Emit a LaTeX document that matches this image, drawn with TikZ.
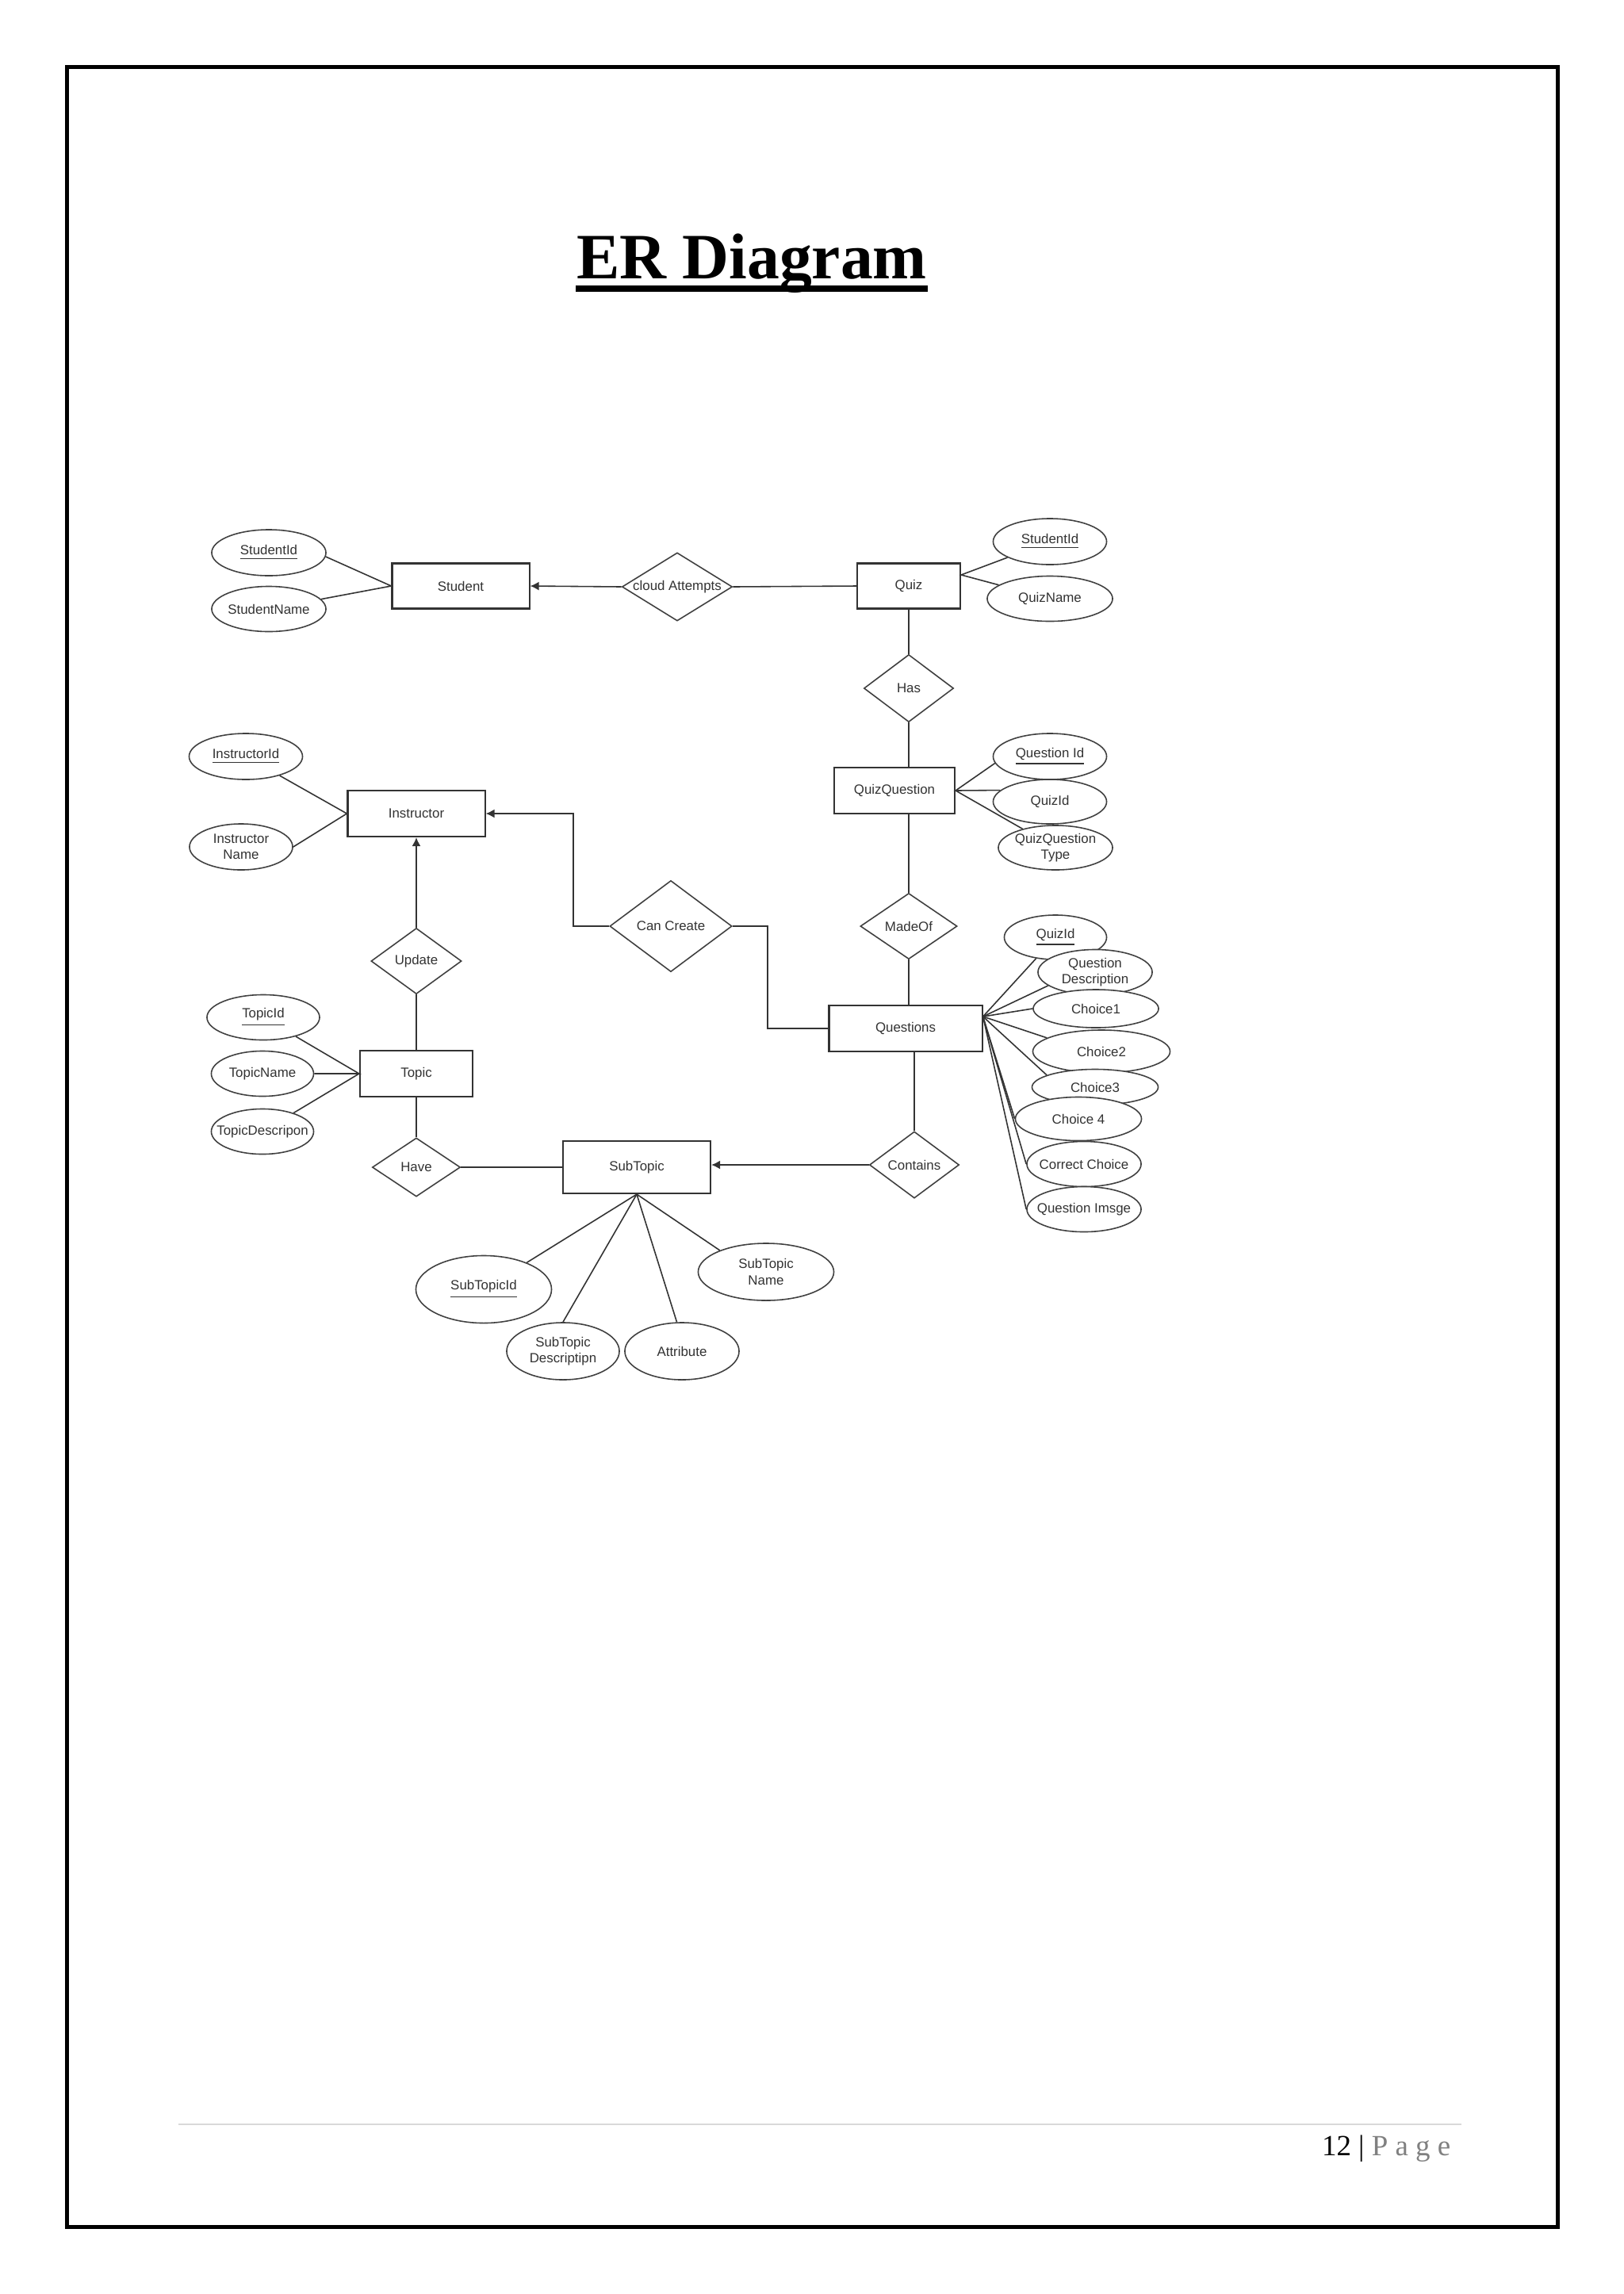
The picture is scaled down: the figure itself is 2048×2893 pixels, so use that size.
\documentclass[tikz,border=0pt]{standalone}
\usepackage{fontspec}
\setmainfont{Liberation Serif}
\setsansfont{Liberation Sans}
\usetikzlibrary{shapes.geometric,arrows.meta}
\begin{document}
\begin{tikzpicture}[x=0.01cm,y=-0.01cm,>={Latex[length=1.1mm,width=1.1mm]},
	every node/.style={font=\sffamily\fontsize{4.8}{5.8}\selectfont,text=black!80},
	ent/.style={draw=black!80,line width=0.6pt,fill=white,inner sep=0,minimum height=0.58cm},
	rel/.style={diamond,draw=black!75,line width=0.45pt,fill=white,inner sep=-1cm,minimum width=1.13cm,minimum height=0.84cm},
	att/.style={ellipse,draw=black!75,line width=0.45pt,fill=white,inner sep=-1cm,align=center,minimum width=1.43cm,minimum height=0.57cm},
	con/.style={draw=black!80,line width=0.45pt}]
\useasboundingbox (0,0) rectangle (2048,2893);
\draw[line width=0.05cm] (84.5,84.5) rectangle (1964.5,2808.5);
\node[inner sep=0,anchor=base,text=black,font=\rmfamily\bfseries\fontsize{23.2}{28}\selectfont] (title) at (948,351) {ER Diagram};
\draw[line width=0.08cm] ([yshift=-0.13cm]title.base west) -- ([yshift=-0.13cm]title.base east);

\node[ent,minimum width=1.73cm,minimum height=0.57cm] (student) at (581,739) {Student};
\node[ent,minimum width=1.30cm,minimum height=0.57cm] (quiz) at (1146,739) {Quiz};
\node[ent,minimum width=1.52cm] (quizq) at (1128,997) {QuizQuestion};
\node[ent,minimum width=1.73cm] (instr) at (525,1026) {Instructor};
\node[ent,minimum width=1.42cm] (topic) at (525,1354) {Topic};
\node[ent,minimum width=1.93cm] (quest) at (1142,1297) {Questions};
\node[ent,minimum width=1.86cm,minimum height=0.66cm] (subt) at (803,1472) {SubTopic};

\node[rel,minimum width=1.39cm,minimum height=0.86cm] (attempts) at (854,740) {cloud Attempts};
\node[rel,minimum height=0.85cm] (has) at (1146,868) {Has};
\node[rel,minimum width=1.22cm,minimum height=0.83cm] (madeof) at (1146,1168) {MadeOf};
\node[rel,minimum width=1.54cm,minimum height=1.15cm] (create) at (846,1168) {Can Create};
\node[rel,minimum width=1.14cm,minimum height=0.83cm] (update) at (525,1212) {Update};
\node[rel,minimum width=1.11cm,minimum height=0.74cm] (have) at (525,1472) {Have};
\node[rel] (contains) at (1153,1469) {Contains};

\node[att,minimum width=1.44cm,minimum height=0.58cm] (sid) at (339,697) {\underline{StudentId}};
\node[att,minimum width=1.44cm] (sname) at (339,768) {StudentName};
\node[att,minimum height=0.58cm] (qsid) at (1324,683) {\underline{StudentId}};
\node[att,minimum width=1.58cm] (qname) at (1324,755) {QuizName};
\node[att,minimum height=0.58cm] (qqid) at (1324,954) {\underline{Question Id}};
\node[att,minimum height=0.56cm] (qqquiz) at (1324,1011) {QuizId};
\node[att,minimum width=1.44cm,minimum height=0.56cm] (qqtype) at (1331,1069) {QuizQuestion\\Type};
\node[att,minimum height=0.58cm] (iid) at (310,954) {\underline{InstructorId}};
\node[att,minimum width=1.30cm,minimum height=0.58cm] (iname) at (304,1068) {Instructor\\Name};
\node[att,minimum width=1.42cm] (tid) at (332,1283) {\underline{TopicId}};
\node[att,minimum width=1.29cm] (tname) at (331,1354) {TopicName};
\node[att,minimum width=1.29cm] (tdesc) at (331,1427) {TopicDescripon};
\node[att,minimum width=1.71cm,minimum height=0.85cm] (stid) at (610,1626) {\underline{SubTopicId}};
\node[att,minimum width=1.42cm,minimum height=0.72cm] (stdesc) at (710,1704) {SubTopic\\Descriptipn};
\node[att,minimum width=1.44cm,minimum height=0.72cm] (stattr) at (860,1704) {Attribute};
\node[att,minimum width=1.71cm,minimum height=0.72cm] (stname) at (966,1604) {SubTopic\\Name};
\node[att,minimum width=1.29cm,minimum height=0.56cm] (qzid) at (1331,1182) {\underline{QuizId}};
\node[att,minimum width=1.44cm] (qdesc) at (1381,1226) {Question\\Description};
\node[att,minimum width=1.58cm,minimum height=0.48cm] (ch1) at (1382,1272) {Choice1};
\node[att,minimum width=1.73cm,minimum height=0.54cm] (ch2) at (1389,1326) {Choice2};
\node[att,minimum width=1.59cm,minimum height=0.45cm] (ch3) at (1381,1371) {Choice3};
\node[att,minimum width=1.59cm,minimum height=0.55cm] (ch4) at (1360,1411) {Choice 4};
\node[att,minimum width=1.44cm] (corr) at (1367,1468) {Correct Choice};
\node[att,minimum width=1.44cm] (img) at (1367,1525) {Question Imsge};

\draw[con] (sid.-4) -- (student.west) -- (sname);
\draw[con,->] (attempts.west) -- (student.east);
\draw[con] (quiz.west) -- (attempts.east);
\coordinate (qz) at ([yshift=0.14cm]quiz.east);
\draw[con] (qsid) -- (qz) -- (qname);
\draw[con] (quiz) -- (has) -- (has.south |- quizq.north);
\draw[con] (qqid.187) -- (quizq.east) -- (qqquiz.167);
\draw[con] (quizq.east) -- (qqtype);
\draw[con] (madeof.north |- quizq.south) -- (madeof) -- (madeof.south |- quest.north);
\coordinate (qa) at ([yshift=0.15cm]quest.east);
\foreach \a in {qzid,qdesc.196,ch1.west,ch2.166,ch3.166,ch4.west,corr.west,img.west}
	\draw[con] (qa) -- (\a);
\draw[con] (contains.north |- quest.south) -- (contains);
\draw[con,->] (contains.west) -- (contains.west -| subt.east);
\draw[con] (create.east) -- ++(44,0) |- (quest.west);
\draw[con,->] (create.west) -- ++(-45,0) |- (instr.east);
\draw[con] (iid) -- (instr.west) -- (iname.east);
\draw[con,->] (update) -- (instr);
\draw[con] (topic) -- (update);
\draw[con] (tid) -- (topic.west) -- (tname);
\draw[con] (topic.west) -- (tdesc);
\draw[con] (topic) -- (have) -- (subt);
\draw[con] (stid) -- (subt.south) -- (stdesc.north);
\draw[con] (stattr.100) -- (subt.south) -- (stname.155);

\draw[black!15,line width=0.015cm] (225,2679) -- (1843,2679);
\node[anchor=base east,inner sep=0,text=black,font=\rmfamily\fontsize{10.5}{12}\selectfont] (page) at (1830,2718) {12 | \textcolor{black!50}{P a g e}};
\end{tikzpicture}
\end{document}
